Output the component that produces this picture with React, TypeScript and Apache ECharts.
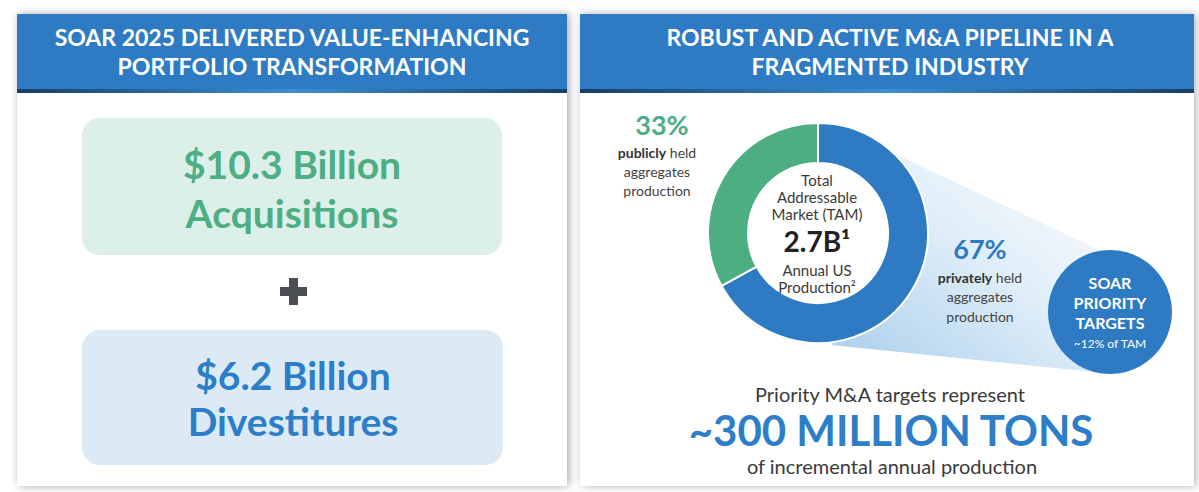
import React, { useEffect, useRef } from "react";
import * as echarts from "echarts";

const FONT = 'Lato, "Open Sans", sans-serif';

const headerTitles = [
  ["SOAR 2025 DELIVERED VALUE-ENHANCING", "PORTFOLIO TRANSFORMATION"],
  ["ROBUST AND ACTIVE M&A PIPELINE IN A", "FRAGMENTED INDUSTRY"],
];
const portfolioAmounts = ["$10.3 Billion", "$6.2 Billion"];
const portfolioLabels = ["Acquisitions", "Divestitures"];
const shareNames = ["privately", "publicly"];
const shareValues = [67, 33];
const tamLines = ["Total", "Addressable", "Market (TAM)"];
const tamValue = "2.7B¹";
const tamSubLines = ["Annual US", "Production²"];
const priorityLines = ["SOAR", "PRIORITY", "TARGETS"];
const priorityShare = "~12% of TAM";
const bottomLines = ["Priority M&A targets represent", "~300 MILLION TONS", "of incremental annual production"];

const BLUE = "#2e7bc4";
const GREEN = "#4dae84";
const DARK = "#3a3a3a";

function txt(text: string, x: number, y: number, size: number, fill: string, weight: any = "normal", extra: any = {}) {
  return {
    type: "text",
    z: 10,
    style: {
      text,
      x,
      y,
      fill,
      fontFamily: FONT,
      fontSize: size,
      fontWeight: weight,
      align: "center",
      verticalAlign: "middle",
      ...extra,
    },
  };
}

export default function App() {
  const ref = useRef<HTMLDivElement>(null);
  useEffect(() => {
    document.body.style.margin = "0";
    const chart = echarts.init(ref.current!, null, { renderer: "svg" });
    const headerLine = (x: number, w: number) => ({
      type: "rect",
      z: 3,
      shape: { x, y: 89, width: w, height: 4 },
      style: {
        fill: new echarts.graphic.LinearGradient(0, 0, 1, 0, [
          { offset: 0, color: "#173e63" },
          { offset: 0.5, color: "#3d8fd6" },
          { offset: 1, color: "#173e63" },
        ]),
      },
    });
    const richB = { rich: { b: { fontWeight: "bold", fontSize: 14, fontFamily: FONT, fill: "#333" } } };
    const graphic: any[] = [
      { type: "rect", z: 0, shape: { x: 0, y: 0, width: 1199, height: 492 }, style: { fill: "#ffffff" } },
      {
        type: "rect",
        z: 1,
        shape: { x: 17, y: 14, width: 550, height: 472 },
        style: { fill: "#fff", shadowBlur: 8, shadowColor: "rgba(0,0,0,0.35)", shadowOffsetX: 2 },
      },
      {
        type: "rect",
        z: 1,
        shape: { x: 580, y: 14, width: 614, height: 472 },
        style: { fill: "#fff", shadowBlur: 8, shadowColor: "rgba(0,0,0,0.3)", shadowOffsetX: 2 },
      },
      { type: "rect", z: 2, shape: { x: 17, y: 14, width: 550, height: 77 }, style: { fill: BLUE } },
      { type: "rect", z: 2, shape: { x: 580, y: 14, width: 614, height: 77 }, style: { fill: BLUE } },
      headerLine(17, 550),
      headerLine(580, 614),
      txt(headerTitles[0][0], 292, 37, 23, "#fff", "bold"),
      txt(headerTitles[0][1], 292, 66, 23, "#fff", "bold"),
      txt(headerTitles[1][0], 890, 37, 23, "#fff", "bold"),
      txt(headerTitles[1][1], 890, 66, 23, "#fff", "bold"),
      // left boxes
      { type: "rect", z: 3, shape: { x: 82, y: 118, width: 420, height: 137, r: 18 }, style: { fill: "#dcefe8" } },
      { type: "rect", z: 3, shape: { x: 82, y: 330, width: 421, height: 135, r: 18 }, style: { fill: "#dbeaf5" } },
      txt(portfolioAmounts[0], 292, 164, 39, GREEN, "bold"),
      txt(portfolioLabels[0], 292, 213, 39, GREEN, "bold"),
      txt(portfolioAmounts[1], 293, 375, 39, "#2d7ec9", "bold"),
      txt(portfolioLabels[1], 293, 421, 39, "#2d7ec9", "bold"),
      { type: "rect", z: 3, shape: { x: 280, y: 287, width: 27, height: 9 }, style: { fill: "#4b4f54" } },
      { type: "rect", z: 3, shape: { x: 289, y: 278, width: 9, height: 27 }, style: { fill: "#4b4f54" } },
      // cone
      {
        type: "polygon",
        z: 3,
        shape: { points: [[878, 146], [1104, 252], [1112, 374], [832, 345]] },
        style: {
          fill: new echarts.graphic.LinearGradient(0, 1, 1, 0, [
            { offset: 0, color: "#a7cdeb" },
            { offset: 0.55, color: "#e2eff9" },
            { offset: 1, color: "#ffffff" },
          ]),
        },
      },
      { type: "circle", z: 4, shape: { cx: 818, cy: 233, r: 71 }, style: { fill: "#fff" } },
      { type: "circle", z: 6, shape: { cx: 1110, cy: 312, r: 62 }, style: { fill: BLUE } },
      txt(`${shareValues[1]}%`, 662, 124, 27, GREEN, "bold"),
      txt(`{b|${shareNames[1]}} held`, 657, 152, 14, "#444", "normal", richB),
      txt("aggregates", 657, 171, 14, "#444"),
      txt("production", 657, 190, 14, "#444"),
      txt(tamLines[0], 817, 180, 15, DARK),
      txt(tamLines[1], 817, 197, 15, DARK),
      txt(tamLines[2], 817, 214, 15, DARK),
      txt(tamValue, 817, 241, 28, "#222", "bold"),
      txt(tamSubLines[0], 817, 270, 15, DARK),
      txt(tamSubLines[1], 817, 287, 15, DARK),
      txt(`${shareValues[0]}%`, 980, 248, 27, BLUE, "bold"),
      txt(`{b|${shareNames[0]}} held`, 980, 277, 14, "#444", "normal", richB),
      txt("aggregates", 980, 296, 14, "#444"),
      txt("production", 980, 316, 14, "#444"),
      txt(priorityLines[0], 1110, 282, 16, "#fff", "bold"),
      txt(priorityLines[1], 1110, 302, 16, "#fff", "bold"),
      txt(priorityLines[2], 1110, 322, 16, "#fff", "bold"),
      txt(priorityShare, 1110, 343, 12, "#fff"),
      txt(bottomLines[0], 890, 394, 20, DARK),
      txt(bottomLines[1], 891, 430, 42, "#2d7ec9", "bold"),
      txt(bottomLines[2], 892, 466, 20, DARK),
    ];
    chart.setOption({
      animation: false,
      graphic,
      series: [
        {
          type: "pie",
          z: 5,
          silent: true,
          center: [818, 233],
          radius: [70, 110],
          startAngle: 90,
          clockwise: true,
          label: { show: false },
          labelLine: { show: false },
          itemStyle: { borderColor: "#fff", borderWidth: 2 },
          data: [
            { name: shareNames[0], value: shareValues[0], itemStyle: { color: BLUE } },
            { name: shareNames[1], value: shareValues[1], itemStyle: { color: GREEN } },
          ],
        },
      ],
    });
    return () => chart.dispose();
  }, []);
  return <div ref={ref} style={{ width: 1199, height: 492 }} />;
}
